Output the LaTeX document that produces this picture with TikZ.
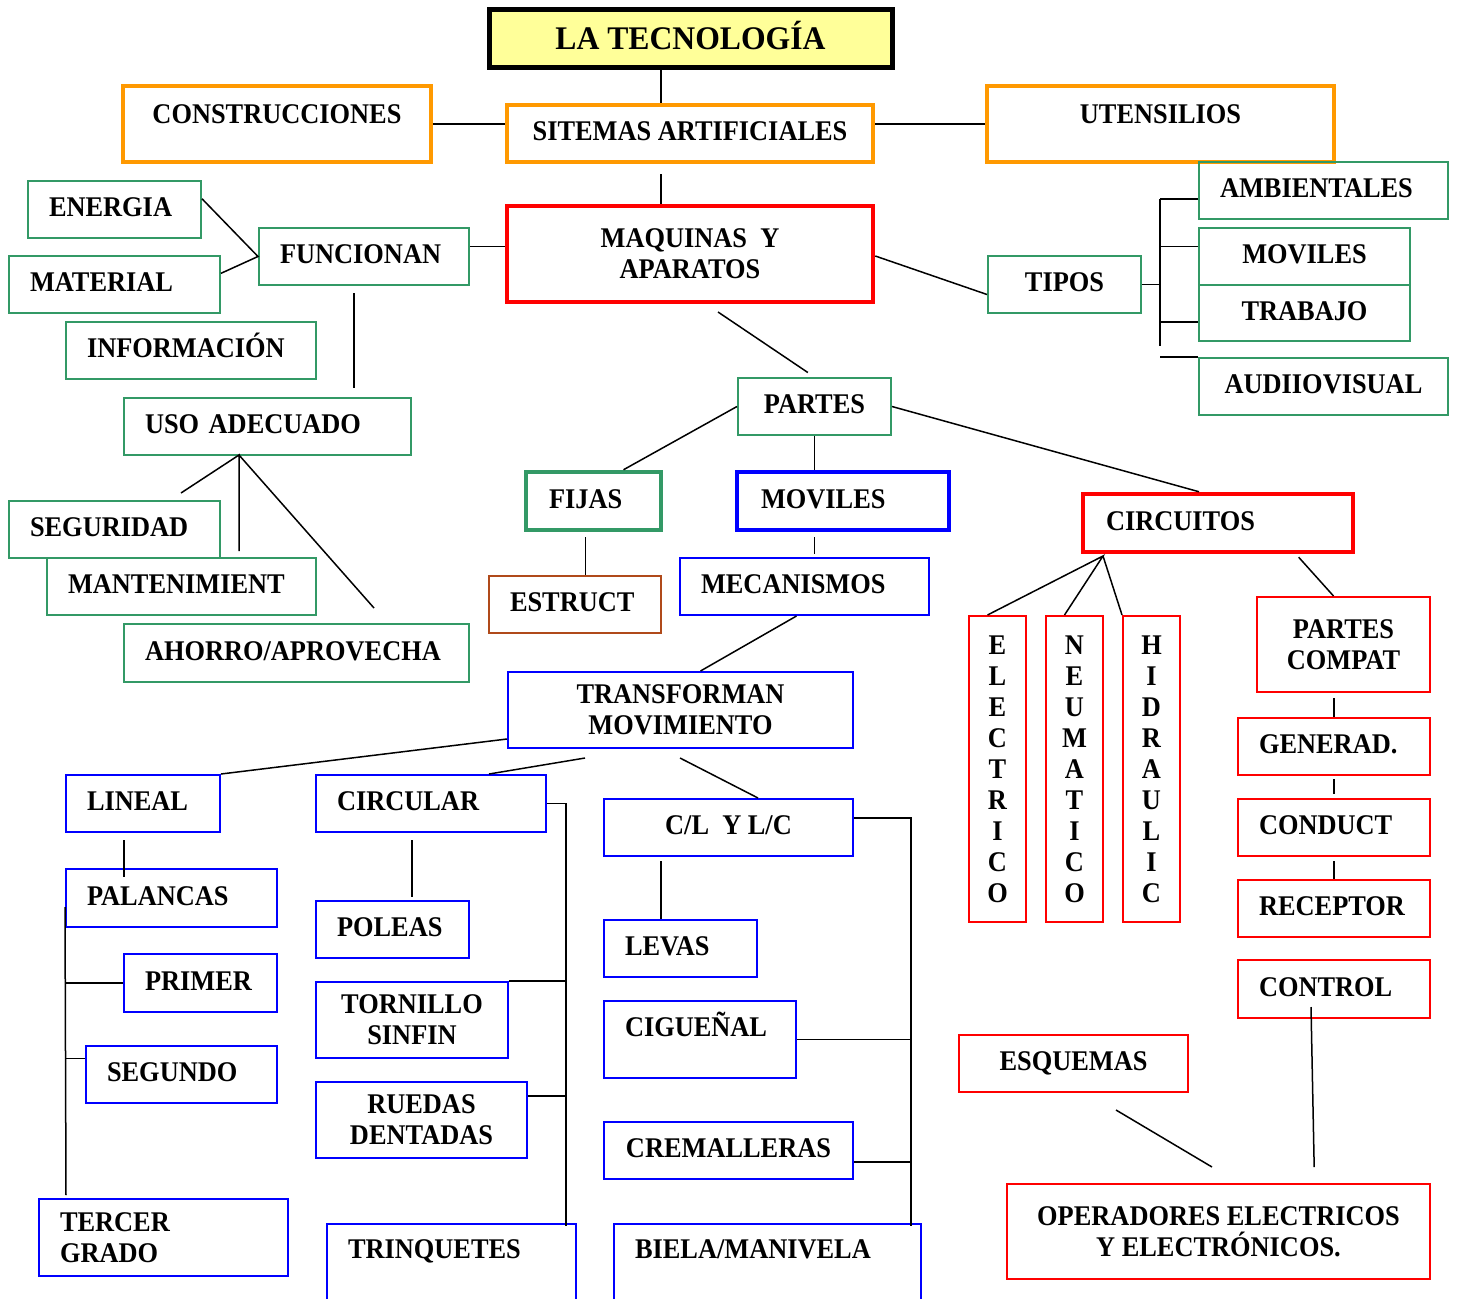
\documentclass[tikz,border=0pt]{standalone}
\usepackage{fontspec}
\usepackage{tikz}
\newfontfamily\mapfont[FakeStretch=0.925]{Liberation Serif}
\newfontfamily\titlefont[FakeStretch=0.96]{Liberation Serif}
\definecolor{mapgreen}{HTML}{339966}
\definecolor{mapblue}{HTML}{0000FF}
\definecolor{mapred}{HTML}{FF0000}
\definecolor{maporange}{HTML}{FF9900}
\definecolor{mapbrown}{HTML}{B04A1A}
\definecolor{mapyellow}{HTML}{FFFF99}

\begin{document}
\begin{tikzpicture}[
        x=1pt, y=-1pt,
        box/.style={draw, rectangle, line width=2pt, inner sep=0pt, minimum height=57pt,
            text height=19pt, text depth=5pt, font={\mapfont\bfseries\fontsize{28.5}{31}\selectfont}},
        lbox/.style={box, align=left, inner xsep=21pt, text width=#1},
        cbox/.style={box, align=center, minimum width=#1},
        lift/.style={text depth=#1},
        twoline/.style={text height=, text depth=},
        heavy/.style={line width=4.5pt}
        ]
    % Define styles
    \tikzstyle{link} = [line width=1.5pt, black]

    \useasboundingbox (0,0) rectangle (1461,1298);
    \clip (0,0) rectangle (1461,1298);
    \fill[white] (0,0) rectangle (1461,1298);

    % Define top nodes
    \node[cbox=403pt, minimum height=58pt, line width=5pt, fill=mapyellow, text height=22pt, text depth=2pt,
        font={\titlefont\bfseries\fontsize{33}{36}\selectfont}] (tec) at (690.5,39) {LA TECNOLOGÍA};
    \node[cbox=308pt, minimum height=76pt, draw=maporange, line width=4pt, lift=20pt] (constr) at (277,124) {CONSTRUCCIONES};
    \node[cbox=366pt, draw=maporange, line width=4pt] (sitemas) at (690,133.5) {SITEMAS ARTIFICIALES};
    \node[cbox=347pt, minimum height=76pt, draw=maporange, line width=4pt, lift=20pt] (utens) at (1160.5,124) {UTENSILIOS};
    \node[cbox=366pt, minimum height=96pt, draw=mapred, heavy, twoline] (maq) at (690,254) {MAQUINAS\ \ Y\\APARATOS};

    % Define green nodes
    \node[lbox=131pt, draw=mapgreen] (energia) at (114.5,209.5) {ENERGIA};
    \node[lbox=169pt, draw=mapgreen] (material) at (114.5,284.5) {MATERIAL};
    \node[lbox=168pt, draw=mapgreen] (funcionan) at (364,256.5) {FUNCIONAN};
    \node[lbox=208pt, draw=mapgreen] (informacion) at (191,350.5) {INFORMACIÓN};
    \node[cbox=153pt, draw=mapgreen] (tipos) at (1064.5,284.5) {TIPOS};
    \node[lbox=207pt, draw=mapgreen] (ambient) at (1323.5,190.5) {AMBIENTALES};
    \node[cbox=211pt, draw=mapgreen] (movtipo) at (1304.5,256.5) {MOVILES};
    \node[cbox=211pt, minimum height=56pt, draw=mapgreen] (trabajo) at (1304.5,313) {TRABAJO};
    \node[cbox=249pt, draw=mapgreen] (audio) at (1323.5,386.5) {AUDIIOVISUAL};
    \node[lbox=245pt, draw=mapgreen] (uso) at (267.5,426.5) {USO ADECUADO};
    \node[cbox=153pt, draw=mapgreen] (partes) at (814.5,406.5) {PARTES};
    \node[lbox=169pt, draw=mapgreen] (segur) at (114.5,529.5) {SEGURIDAD};
    \node[lbox=227pt, draw=mapgreen] (mant) at (181.5,586.5) {MANTENIMIENT};
    \node[lbox=303pt, minimum height=58pt, draw=mapgreen] (ahorro) at (296.5,653) {AHORRO/APROVECHA};

    % Define part nodes
    \node[lbox=89pt, inner xsep=23pt, minimum height=58pt, draw=mapgreen, heavy] (fijas) at (593.5,501) {FIJAS};
    \node[lbox=164pt, inner xsep=24pt, minimum height=58pt, draw=mapblue, heavy] (movil) at (843,501) {MOVILES};
    \node[lbox=224pt, inner xsep=23pt, minimum height=58pt, draw=mapred, heavy] (circ) at (1218,523) {CIRCUITOS};
    \node[lbox=130pt, draw=mapbrown] (estruct) at (575,604.5) {ESTRUCT};
    \node[lbox=207pt, draw=mapblue] (mecan) at (804.5,586.5) {MECANISMOS};
    \node[cbox=345pt, minimum height=76pt, draw=mapblue, twoline] (transf) at (680.5,710) {TRANSFORMAN\\MOVIMIENTO};

    % Define circuit nodes
    \node[cbox=57pt, minimum height=306pt, draw=mapred, twoline] (elec) at (997.5,769) {E\\L\\E\\C\\T\\R\\I\\C\\O};
    \node[cbox=57pt, minimum height=306pt, draw=mapred, twoline] (neum) at (1074.5,769) {N\\E\\U\\M\\A\\T\\I\\C\\O};
    \node[cbox=57pt, minimum height=306pt, draw=mapred, twoline] (hidr) at (1151.5,769) {H\\I\\D\\R\\A\\U\\L\\I\\C};
    \node[cbox=173pt, minimum height=95pt, draw=mapred, twoline] (pcompat) at (1343.5,644.5) {PARTES\\COMPAT};
    \node[lbox=150pt, draw=mapred] (generad) at (1334,746.5) {GENERAD.};
    \node[lbox=150pt, draw=mapred] (conduct) at (1334,827.5) {CONDUCT};
    \node[lbox=150pt, draw=mapred] (receptor) at (1334,908.5) {RECEPTOR};
    \node[lbox=150pt, minimum height=58pt, draw=mapred] (control) at (1334,989) {CONTROL};
    \node[cbox=229pt, draw=mapred] (esquemas) at (1073.5,1063.5) {ESQUEMAS};
    \node[cbox=423pt, minimum height=95pt, draw=mapred, twoline] (operad) at (1218.5,1231.5) {OPERADORES ELECTRICOS\\Y ELECTRÓNICOS.};

    % Define mechanism nodes
    \node[lbox=112pt, draw=mapblue] (lineal) at (143,803.5) {LINEAL};
    \node[lbox=188pt, draw=mapblue] (circular) at (431,803.5) {CIRCULAR};
    \node[cbox=249pt, draw=mapblue] (cl) at (728.5,827.5) {C/L\ \ Y L/C};
    \node[lbox=169pt, minimum height=58pt, draw=mapblue] (palancas) at (171.5,898) {PALANCAS};
    \node[lbox=111pt, draw=mapblue] (poleas) at (392.5,929.5) {POLEAS};
    \node[lbox=111pt, minimum height=58pt, draw=mapblue] (primer) at (200.5,983) {PRIMER};
    \node[cbox=192pt, minimum height=76pt, draw=mapblue, twoline] (tornillo) at (412,1020) {TORNILLO\\SINFIN};
    \node[lbox=149pt, draw=mapblue] (segundo) at (181.5,1074.5) {SEGUNDO};
    \node[cbox=211pt, minimum height=76pt, draw=mapblue, twoline] (ruedas) at (421.5,1120) {RUEDAS\\DENTADAS};
    \node[lbox=111pt, draw=mapblue] (levas) at (680.5,948.5) {LEVAS};
    \node[lbox=150pt, minimum height=77pt, draw=mapblue, lift=25pt] (ciguenal) at (700,1039.5) {CIGUEÑAL};
    \node[cbox=249pt, draw=mapblue] (cremall) at (728.5,1150.5) {CREMALLERAS};
    \node[lbox=207pt, minimum height=77pt, draw=mapblue, twoline] (tercer) at (163.5,1237.5) {TERCER\\GRADO};
    \node[lbox=207pt, minimum height=100pt, draw=mapblue, lift=50pt] (trinq) at (451.5,1274) {TRINQUETES};
    \node[lbox=265pt, minimum height=100pt, draw=mapblue, lift=50pt] (biela) at (767.5,1274) {BIELA/MANIVELA};

    % Draw the top links
    \coordinate (spine) at (661,0);
    \draw[link] (tec.south -| spine) -- (sitemas.north -| spine);
    \draw[link, shorten <=10pt] (sitemas.south -| spine) -- (maq.north -| spine);
    \draw[link] (constr.east) -- (constr.east -| sitemas.west);
    \draw[link] (utens.west -| sitemas.east) -- (utens.west);

    % Draw the links round funcionan
    \draw[link] (energia.7) -- (funcionan.west) -- (material.6);
    \draw[link] ([yshift=10pt]funcionan.east) -- ([yshift=10pt]funcionan.east -| maq.west);
    \draw[link, shorten <=7pt, shorten >=9pt] ([xshift=-10pt]funcionan.south) -- ([xshift=-10pt]funcionan.south |- uso.north);

    % Draw the links to the types
    \draw[link] ([yshift=-2pt]maq.east) -- ([yshift=-10pt]tipos.west);
    \coordinate (btop) at (1160,199);
    \coordinate (bbot) at (1160,346);
    \draw[link] (btop) -- (bbot);
    \draw[link] (tipos.east) -- (tipos.east -| btop);
    \draw[link] (btop) -- (btop -| ambient.west);
    \draw[link] ([yshift=10pt]movtipo.west -| btop) -- ([yshift=10pt]movtipo.west);
    \draw[link] ([yshift=-9pt]trabajo.west -| btop) -- ([yshift=-9pt]trabajo.west);
    \draw[link] (audio.north west -| btop) -- (audio.north west);

    % Draw the links to the parts
    \coordinate (mq) at (718,312);
    \draw[link, shorten >=8pt] (mq) -- (partes.north);
    \draw[link] (partes.west) -- ([xshift=30pt]fijas.north);
    \draw[link] (partes.south) -- (partes.south |- movil.north);
    \draw[link] (partes.east) -- ([xshift=-19pt]circ.north);

    % Draw the links of uso adecuado
    \coordinate (uhub) at (239,455);
    \coordinate (useg) at (181,493);
    \coordinate (umant) at (239,551);
    \coordinate (uaho) at (374,608);
    \draw[link] (useg) -- (uhub) -- (umant);
    \draw[link] (uhub) -- (uaho);

    % Draw the links below fijas and moviles
    \draw[link, shorten <=5pt] ([xshift=-8pt]fijas.south) -- ([xshift=-8pt]fijas.south |- estruct.north);
    \draw[link, shorten <=5pt, shorten >=3pt] (partes.south |- movil.south) -- (partes.south |- mecan.north);
    \draw[link] ([xshift=-8pt]mecan.south) -- ([xshift=20pt]transf.north);

    % Draw the links of the circuits
    \coordinate (chub) at (1103,556);
    \draw[link] ([xshift=-10pt]elec.north) -- (chub) -- ([xshift=-10pt]neum.north);
    \draw[link] (chub) -- (hidr.north west);
    \draw[link, shorten <=4pt] ([xshift=78pt]circ.south) -- ([xshift=-10pt]pcompat.north);
    \draw[link, shorten <=5pt] (pcompat.south -| generad.north) -- (generad.north);
    \draw[link, shorten <=3pt, shorten >=4pt] (generad.south) -- (conduct.north);
    \draw[link, shorten <=4pt] (conduct.south) -- (receptor.north);
    \coordinate (ctl) at (1311,1007);
    \draw[link, shorten >=16pt] (ctl) -- ([xshift=96pt]operad.north);
    \coordinate (esq) at (1116,1110);
    \coordinate (eop) at (1212,1167);
    \draw[link] (esq) -- (eop);

    % Draw the links of transforman
    \draw[link] ([yshift=10pt]transf.south west) -- (lineal.north east);
    \coordinate (tcir) at (585,758);
    \draw[link] (tcir) -- ([xshift=58pt]circular.north);
    \coordinate (tcl) at (680,758);
    \draw[link] (tcl) -- ([xshift=29.5pt]cl.north);

    % Draw the lineal branch
    \draw[link, shorten <=7pt, shorten >=-9pt] ([xshift=-19pt]lineal.south) -- ([xshift=-19pt]lineal.south |- palancas.north);
    \coordinate (pbend) at (66,1195);
    \draw[link] ([yshift=-9pt]palancas.west) -- (pbend);
    \draw[link] (primer.west -| pbend) -- (primer.west);
    \draw[link] ([yshift=16pt]segundo.west -| pbend) -- ([yshift=16pt]segundo.west);

    % Draw the circular branch
    \draw[link, shorten <=7pt, shorten >=3pt] ([xshift=-19pt]circular.south) -- ([xshift=-19pt]circular.south |- poleas.north);
    \coordinate (cbus) at (566,803.5);
    \coordinate (cbend) at (566,1226);
    \draw[link] (circular.east) -- (cbus) -- (cbend);
    \draw[link] (tornillo.north east) -- (tornillo.north east -| cbus);
    \draw[link] ([yshift=24pt]ruedas.east) -- ([yshift=24pt]ruedas.east -| cbus);

    % Draw the c/l branch
    \draw[link, shorten <=4pt] ([xshift=-19.5pt]levas.north |- cl.south) -- ([xshift=-19.5pt]levas.north);
    \coordinate (lbus) at (911,818);
    \coordinate (lbend) at (911,1226);
    \draw[link] ([yshift=9.5pt]cl.east) -- (lbus) -- (lbend);
    \draw[link] (ciguenal.east) -- (ciguenal.east -| lbus);
    \draw[link] ([yshift=-11.5pt]cremall.east) -- ([yshift=-11.5pt]cremall.east -| lbus);

\end{tikzpicture}
\end{document}
